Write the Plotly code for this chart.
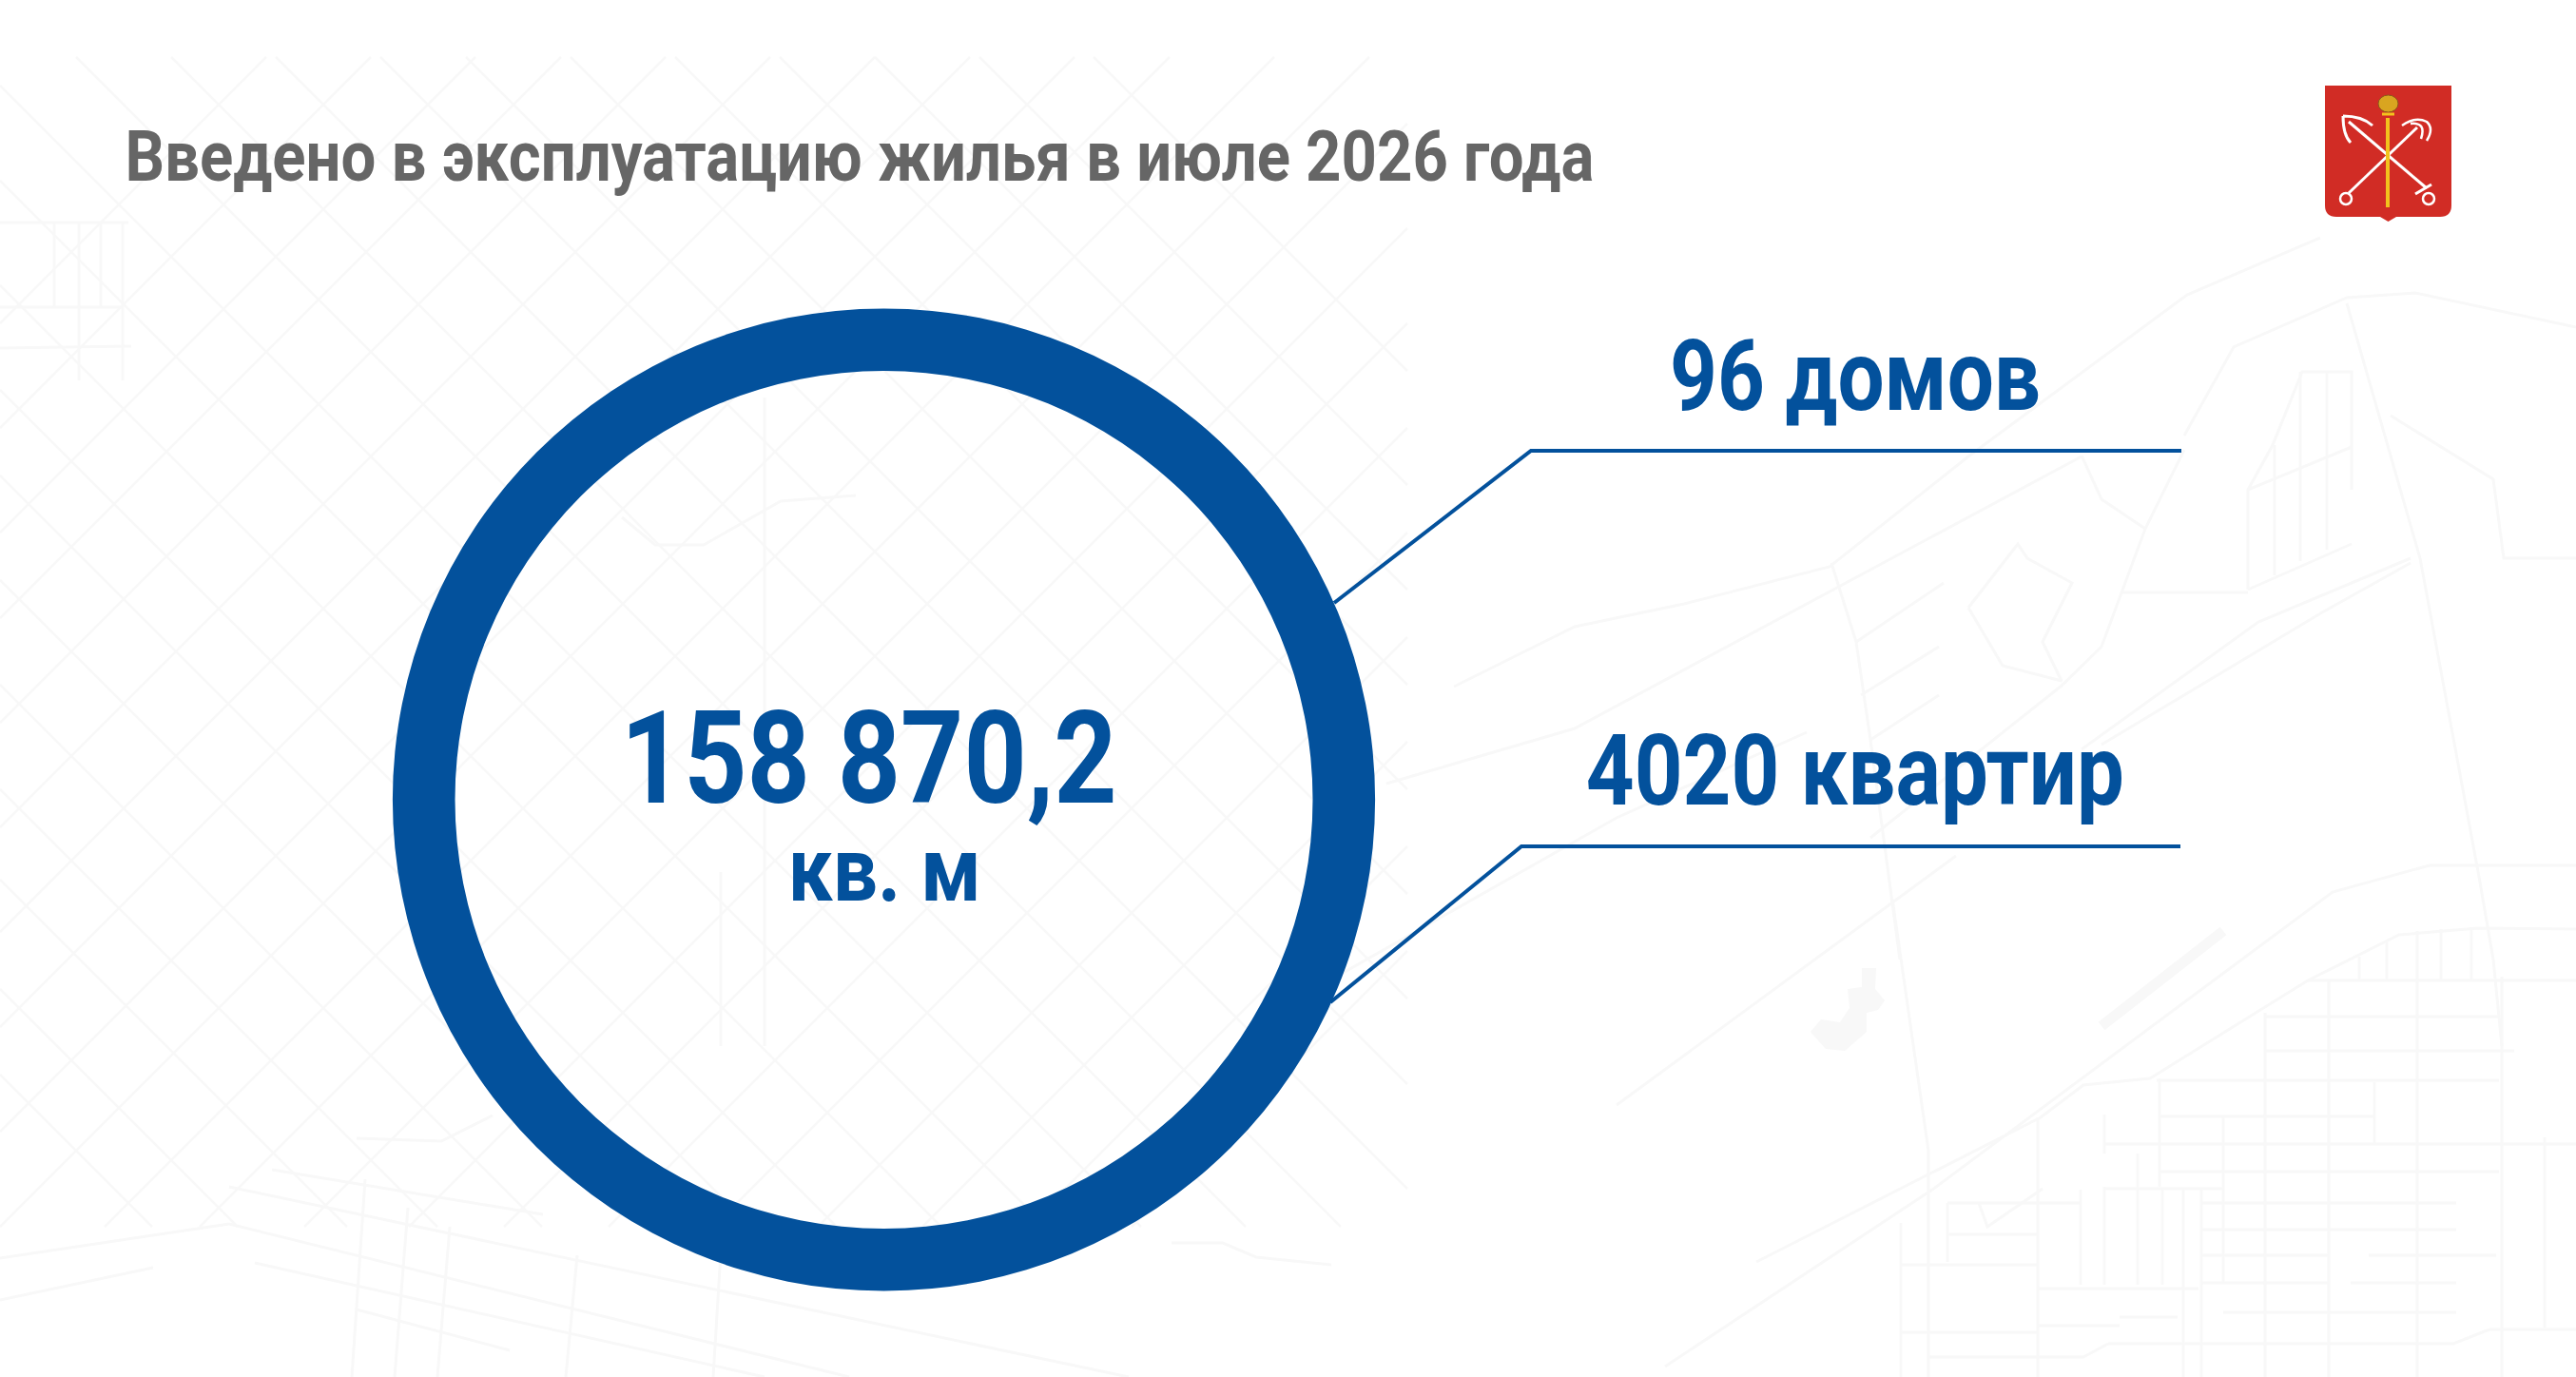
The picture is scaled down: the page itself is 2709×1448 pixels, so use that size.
import json
import plotly.graph_objects as go

# values from the slide
total_area = [158870.2]
title_text = "Введено в эксплуатацию жилья в июле 2026 года"
area_label = "158 870,2"
area_unit = "кв. м"
houses_label = "96 домов"
flats_label = "4020 квартир"

W, H = 2709, 1448
BLUE = "#03519c"
MAP = "#f8f8f8"
FONT = "Roboto"

# leader lines, slide pixels
leader_top_x = [1403, 1610, 2294]
leader_top_y = [634, 474, 474]
leader_low_x = [1399, 1600, 2293]
leader_low_y = [1054, 890, 890]

# faint street map behind everything, traced by eye
lattice_down = [-1130, -1040, -925, -830, -720, -610, -500, -410, -300, -190, -90, 20, 120, 230, 340, 430, 540, 650, 760, 860, 970, 1090]
lattice_up = [340, 450, 560, 650, 760, 870, 980, 1080, 1190, 1290, 1400, 1500, 1610, 1720, 1820, 1930, 2040, 2150, 2260, 2370, 2480]

streets = [
    [(1751, 1437), (2032, 1251), (2453, 938), (2555, 910), (2709, 910)],
    [(1847, 1327), (2146, 1175), (2191, 1141), (2261, 1134), (2427, 1031), (2523, 983), (2606, 976), (2709, 977)],
    [(1700, 1162), (2057, 900)],
    [(1990, 945), (2028, 1210), (2028, 1448)],
    [(1529, 722), (1656, 659), (1771, 635), (1924, 596), (2070, 480), (2300, 310), (2440, 250)],
    [(1926, 592), (1952, 675), (1967, 778), (1998, 1009)],
    [(1952, 675), (2044, 613)],
    [(1957, 731), (2039, 680)],
    [(1967, 778), (2039, 731)],
    [(2070, 639), (2122, 572), (2132, 587), (2179, 613), (2148, 675), (2168, 716), (2106, 700), (2070, 639)],
    [(2297, 473), (2256, 556), (2210, 680), (2168, 721), (1967, 881)],
    [(2189, 479), (2210, 525), (2256, 556)],
    [(2297, 458), (2349, 365), (2468, 313), (2540, 308), (2709, 344)],
    [(2468, 319), (2545, 587), (2607, 922), (2622, 1009), (2631, 1100)],
    [(2473, 515), (2473, 391), (2421, 391), (2390, 468), (2364, 515), (2364, 620)],
    [(2364, 515), (2473, 470)],
    [(2392, 468), (2392, 605)],
    [(2419, 391), (2419, 590)],
    [(2447, 391), (2447, 578)],
    [(2364, 620), (2473, 572)],
    [(2230, 623), (2364, 623)],
    [(2514, 437), (2622, 504), (2633, 587), (2709, 587)],
    [(2189, 788), (2375, 654), (2535, 587)],
    [(2210, 783), (2442, 644), (2535, 592)],
    [(1458, 824), (1656, 766), (2189, 480)],
    [(1400, 1030), (1700, 860), (1900, 770)],
    # blocks, lower right
    [(2427, 1031), (2709, 1031)], [(2382, 1069), (2628, 1069)], [(2382, 1105), (2644, 1105)],
    [(2268, 1136), (2628, 1136)], [(2271, 1174), (2497, 1174)], [(2213, 1203), (2709, 1203)],
    [(2271, 1232), (2628, 1232)], [(2213, 1250), (2338, 1250)], [(2048, 1265), (2188, 1265)],
    [(2315, 1265), (2583, 1265)], [(2315, 1293), (2583, 1293)], [(2048, 1298), (2143, 1298)],
    [(2315, 1320), (2449, 1320)], [(2491, 1320), (2625, 1320)], [(2000, 1330), (2143, 1330)],
    [(2315, 1349), (2449, 1349)], [(2472, 1349), (2583, 1349)], [(2143, 1355), (2312, 1355)],
    [(2338, 1380), (2583, 1380)], [(2229, 1385), (2290, 1385)], [(2143, 1394), (2229, 1394)],
    [(2618, 1398), (2709, 1398)], [(2000, 1401), (2143, 1401)], [(2217, 1413), (2580, 1413), (2618, 1398)],
    [(2028, 1427), (2191, 1427), (2217, 1413)],
    [(2143, 1175), (2143, 1448)], [(2631, 1027), (2631, 1448)], [(2542, 979), (2542, 1448)],
    [(2449, 1031), (2449, 1448)], [(2382, 1065), (2382, 1448)], [(2315, 1251), (2315, 1448)],
    [(2271, 1134), (2271, 1248)], [(2338, 1175), (2338, 1350)], [(2497, 1138), (2497, 1203)],
    [(2213, 1172), (2213, 1213)], [(2213, 1248), (2213, 1351)], [(2248, 1213), (2248, 1351)],
    [(2274, 1250), (2274, 1351)], [(2296, 1250), (2296, 1448)], [(2188, 1251), (2188, 1351)],
    [(2048, 1265), (2048, 1327)], [(1999, 1286), (1999, 1448)], [(2676, 1196), (2676, 1396)],
    [(2481, 1006), (2481, 1031)], [(2510, 990), (2510, 1031)], [(2567, 977), (2567, 1031)], [(2599, 977), (2599, 1031)],
    [(2148, 1250), (2090, 1290), (2081, 1265)],
    # lower left
    [(241, 1248), (1187, 1448)], [(241, 1287), (893, 1448)], [(268, 1328), (804, 1448)],
    [(286, 1230), (571, 1277)], [(375, 1377), (536, 1420)], [(0, 1323), (241, 1287)],
    [(0, 1367), (161, 1333)], [(375, 1197), (464, 1200), (518, 1173)],
    [(1232, 1307), (1286, 1307), (1321, 1322), (1400, 1330)],
    [(384, 1240), (370, 1448)], [(429, 1270), (415, 1448)], [(473, 1290), (460, 1448)],
    [(607, 1320), (595, 1448)], [(759, 1300), (750, 1448)],
    # top left blocks
    [(0, 234), (135, 234)], [(0, 323), (129, 323)], [(0, 366), (138, 364)],
    [(57, 234), (57, 323)], [(83, 234), (83, 400)], [(106, 234), (106, 323)], [(129, 234), (129, 400)],
    # inside the ring
    [(804, 418), (804, 1100)], [(758, 917), (758, 1100)],
    [(654, 544), (689, 573), (740, 573), (821, 527), (900, 521)],
]
pond = [(1958, 1018), (1973, 1018), (1972, 1040), (1982, 1052), (1975, 1062), (1963, 1065), (1963, 1085),
        (1940, 1105), (1920, 1103), (1904, 1085), (1915, 1072), (1935, 1075), (1945, 1060), (1943, 1040), (1958, 1038)]

fig = go.Figure()


def lattice_segment(c, sign):
    # one street of the diagonal grid, cut to the area it covers
    x0, x1, y0, y1 = 0, 1480, 60, 1290
    if sign > 0:  # x - y = c
        a = max(x0, y0 + c)
        b = min(x1, y1 + c)
        return [(a, a - c), (b, b - c)] if a < b else None
    a = max(x0, c - y1)  # x + y = c
    b = min(x1, c - y0)
    return [(a, c - a), (b, c - b)] if a < b else None


def polyline_xy(paths):
    xs, ys = [], []
    for p in paths:
        xs += [q[0] for q in p] + [None]
        ys += [q[1] for q in p] + [None]
    return xs, ys


lattice = [lattice_segment(c, 1) for c in lattice_down] + [lattice_segment(c, -1) for c in lattice_up]
lx, ly = polyline_xy([p for p in lattice if p])
fig.add_trace(go.Scatter(x=lx, y=ly, mode="lines", line=dict(color=MAP, width=2.5), hoverinfo="skip", showlegend=False))
sx, sy = polyline_xy(streets)
fig.add_trace(go.Scatter(x=sx, y=sy, mode="lines", line=dict(color=MAP, width=3), hoverinfo="skip", showlegend=False))
fig.add_trace(go.Scatter(x=[p[0] for p in pond], y=[p[1] for p in pond], mode="lines", fill="toself", fillcolor=MAP,
                         line=dict(width=0), hoverinfo="skip", showlegend=False))
fig.add_trace(go.Scatter(x=[2210, 2338], y=[1079, 979], mode="lines", line=dict(color=MAP, width=11),
                         hoverinfo="skip", showlegend=False))

# ring: one-slice donut
cx, cy, r = 929.5, 841, 516.6
fig.add_trace(go.Pie(
    values=total_area,
    hole=0.873,
    sort=False,
    textinfo="none",
    hoverinfo="skip",
    showlegend=False,
    marker=dict(colors=[BLUE], line=dict(width=0)),
    domain=dict(x=[(cx - r) / W, (cx + r) / W], y=[1 - (cy + r) / H, 1 - (cy - r) / H]),
))

for xs, ys in [(leader_top_x, leader_top_y), (leader_low_x, leader_low_y)]:
    fig.add_trace(go.Scatter(x=xs, y=ys, mode="lines", line=dict(color=BLUE, width=4),
                             hoverinfo="skip", showlegend=False))

# target text widths, Roboto is wider than the slide's face
text_widths = {title_text: 1545, area_label: 522, area_unit: 203, houses_label: 390, flats_label: 566}


def label(text, x, y, size, color=BLUE):
    fig.add_annotation(x=x, y=y, text=text, showarrow=False, xanchor="center", yanchor="middle",
                       font=dict(family=FONT, size=size, color=color, weight=700))


label(title_text, 903.5, 164, 75, "#666666")
label(area_label, 913, 797, 136)
label(area_unit, 930, 914, 95)
label(houses_label, 1951, 395, 104)
label(flats_label, 1951, 810, 104)

# coat of arms, top right
shield = "M2445,90 L2578,90 L2578,216 Q2578,228 2566,228 L2520,228 L2511.5,233 L2503,228 L2457,228 Q2445,228 2445,216 Z"
emblem = [
    dict(type="path", path=shield, fillcolor="#d12c25", line=dict(width=0)),
    dict(type="line", x0=2470, y0=128, x1=2552, y1=198, line=dict(color="white", width=3)),
    dict(type="line", x0=2542, y0=134, x1=2470, y1=203, line=dict(color="white", width=3)),
    dict(type="path", path="M2464,122 Q2484,122 2495,132 M2464,122 Q2464,142 2472,150", line=dict(color="white", width=3)),
    dict(type="path", path="M2526,132 Q2540,122 2552,128 Q2560,135 2552,148 M2535,130 Q2552,128 2546,146", line=dict(color="white", width=2.5)),
    dict(type="line", x0=2540, y0=204, x1=2557, y1=194, line=dict(color="white", width=3)),
    dict(type="circle", x0=2461, y0=203, x1=2473, y1=215, line=dict(color="white", width=2.5)),
    dict(type="circle", x0=2548, y0=203, x1=2560, y1=215, line=dict(color="white", width=2.5)),
    dict(type="line", x0=2511, y0=124, x1=2511, y1=218, line=dict(color="#f2c31d", width=4)),
    dict(type="circle", x0=2501, y0=100, x1=2522, y1=118, fillcolor="#d9a520", line=dict(color="#8a5a1a", width=1)),
    dict(type="line", x0=2505, y0=120, x1=2518, y1=120, line=dict(color="#f2c31d", width=3)),
]
for s in emblem:
    s.update(xref="x", yref="y", layer="above")

fig.update_layout(
    width=W, height=H,
    margin=dict(l=0, r=0, t=0, b=0),
    paper_bgcolor="white", plot_bgcolor="rgba(0,0,0,0)",
    xaxis=dict(range=[0, W], visible=False, fixedrange=True),
    yaxis=dict(range=[H, 0], visible=False, fixedrange=True),
    shapes=emblem,
)

squeeze = """
document.body.style.margin = '0';
var widths = %s;
document.querySelectorAll('.annotation-text').forEach(function (t) {
    var w = widths[t.textContent];
    if (w) {
        t.setAttribute('textLength', w);
        t.setAttribute('lengthAdjust', 'spacingAndGlyphs');
    }
});
""" % json.dumps(text_widths, ensure_ascii=False)
fig.write_html("out.html", config=dict(displayModeBar=False), post_script=squeeze)
